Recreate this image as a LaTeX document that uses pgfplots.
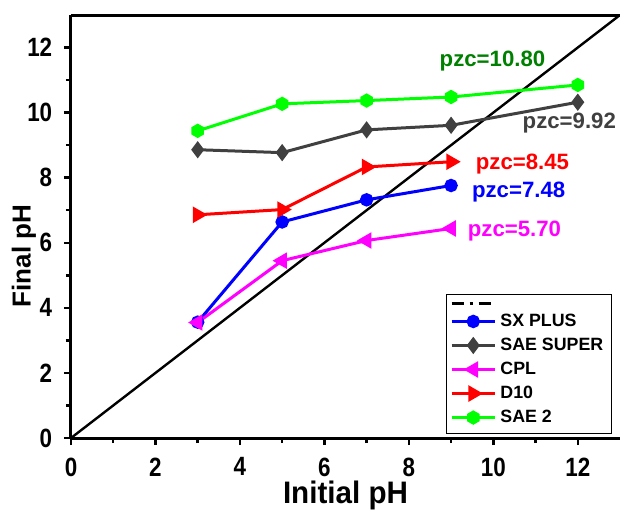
\documentclass[border=0pt]{standalone}
\usepackage{fontspec}
\setmainfont{Liberation Sans}
\usepackage{pgfplots}
\pgfplotsset{compat=1.18}
\definecolor{sgreen}{HTML}{00FF00}
\definecolor{dgreen}{HTML}{008000}
\definecolor{sgray}{HTML}{404040}
\definecolor{smag}{HTML}{FF00FF}
\definecolor{sred}{HTML}{FF0000}
\definecolor{sblue}{HTML}{0000FF}
\pgfdeclareplotmark{hex*}{%
  \pgfpathmoveto{\pgfpointpolar{90}{1.1\pgfplotmarksize}}%
  \pgfpathlineto{\pgfpointpolar{150}{1.1\pgfplotmarksize}}%
  \pgfpathlineto{\pgfpointpolar{210}{1.1\pgfplotmarksize}}%
  \pgfpathlineto{\pgfpointpolar{270}{1.1\pgfplotmarksize}}%
  \pgfpathlineto{\pgfpointpolar{330}{1.1\pgfplotmarksize}}%
  \pgfpathlineto{\pgfpointpolar{30}{1.1\pgfplotmarksize}}%
  \pgfpathclose\pgfusepathqfillstroke}
\pgfplotsset{
  markleg/.style={legend image code/.code={%
    \draw[##1,mark=none] (0cm,0cm) -- (0.76cm,0cm);
    \draw[##1] plot coordinates {(0.38cm,0cm)};}},
  lineleg/.style={legend image code/.code={%
    \draw[##1] (0cm,0cm) -- (0.76cm,0cm);}},
}
\begin{document}
\begin{tikzpicture}
\path[use as bounding box] (-35.5pt,-36pt) rectangle (274.5pt,219pt);
\begin{axis}[
  at={(0,0)}, anchor=south west,
  scale only axis, width=274.5pt, height=211.5pt,
  xmin=0, xmax=13, ymin=0, ymax=13,
  axis x line*=bottom, axis y line*=left,
  axis line style={line width=1.5pt, -},
  xtick={0,2,...,12}, ytick={0,2,...,12},
  minor xtick={1,3,...,11}, minor ytick={1,3,...,11},
  tick align=outside, tick style={line width=1.2pt, black},
  major tick length=3.5pt, minor tick length=2.5pt,
  xticklabel={\scalebox{1}[1.18]{\pgfmathprintnumber[assume math mode=true]{\tick}}},
  yticklabel={\scalebox{1}[1.18]{\pgfmathprintnumber[assume math mode=true]{\tick}}},
  ticklabel style={font=\bfseries\fontsize{11.2}{11.2}\selectfont, inner sep=1pt},
  xticklabel style={yshift=-5.2pt},
  yticklabel style={xshift=-4.7pt},
  xlabel={\scalebox{1}[1.05]{\bfseries Initial pH}},
  xlabel style={font=\bfseries\fontsize{14.8}{14.8}\selectfont, at={(axis description cs:0.5,0)}, anchor=base, inner sep=0pt, yshift=-32.5pt},
  legend style={at={(0.985,0.01)}, anchor=south east, draw=black, line width=0.5pt,
    font=\bfseries\fontsize{8.9}{8.9}\selectfont, row sep=0.3pt, inner sep=2pt,
    cells={anchor=west}},
  legend cell align=left,
  markleg,
  clip=false,
]
\addplot[black, line width=1.2pt, forget plot] coordinates {(0,0)(13,13)};
\addlegendimage{black, line width=1.3pt, dash pattern=on 6pt off 3pt on 1.5pt off 3pt, lineleg}
\addlegendentry{}
\addplot[sblue, line width=1.5pt, mark=*, mark size=2.6pt] coordinates {(3,3.56)(5,6.64)(7,7.32)(9,7.76)};
\addlegendentry{SX PLUS}
\addplot[sgray, line width=1.5pt, mark=diamond*, mark size=3.1pt] coordinates {(3,8.86)(5,8.77)(7,9.47)(9,9.61)(12,10.32)};
\addlegendentry{SAE SUPER}
\addplot[smag, line width=1.5pt, mark=triangle*, mark size=3.3pt, mark options={rotate=90}] coordinates {(3,3.55)(5,5.45)(7,6.07)(9,6.44)};
\addlegendentry{CPL}
\addplot[sred, line width=1.5pt, mark=triangle*, mark size=3.3pt, mark options={rotate=-90}] coordinates {(3,6.86)(5,7.02)(7,8.33)(9,8.49)};
\addlegendentry{D10}
\addplot[sgreen, line width=1.5pt, mark=hex*, mark size=2.5pt] coordinates {(3,9.44)(5,10.27)(7,10.37)(9,10.48)(12,10.85)};
\addlegendentry{SAE 2}
\draw[line width=1.5pt] (rel axis cs:0,1) -- (rel axis cs:1,1);
\node[rotate=90, font=\bfseries\fontsize{13}{13}\selectfont] at ([xshift=-23.5pt]rel axis cs:0,0.43) {Final pH};
\node[font=\bfseries\fontsize{11.1}{11.1}\selectfont, text=dgreen] at (axis cs:9.98,11.57) {pzc=10.80};
\node[font=\bfseries\fontsize{11.1}{11.1}\selectfont, text=sgray] at (axis cs:11.8,9.67) {pzc=9.92};
\node[font=\bfseries\fontsize{11.1}{11.1}\selectfont, text=sred] at (axis cs:10.69,8.42) {pzc=8.45};
\node[font=\bfseries\fontsize{11.1}{11.1}\selectfont, text=sblue] at (axis cs:10.6,7.56) {pzc=7.48};
\node[font=\bfseries\fontsize{11.1}{11.1}\selectfont, text=smag] at (axis cs:10.5,6.37) {pzc=5.70};
\end{axis}
\end{tikzpicture}
\end{document}
